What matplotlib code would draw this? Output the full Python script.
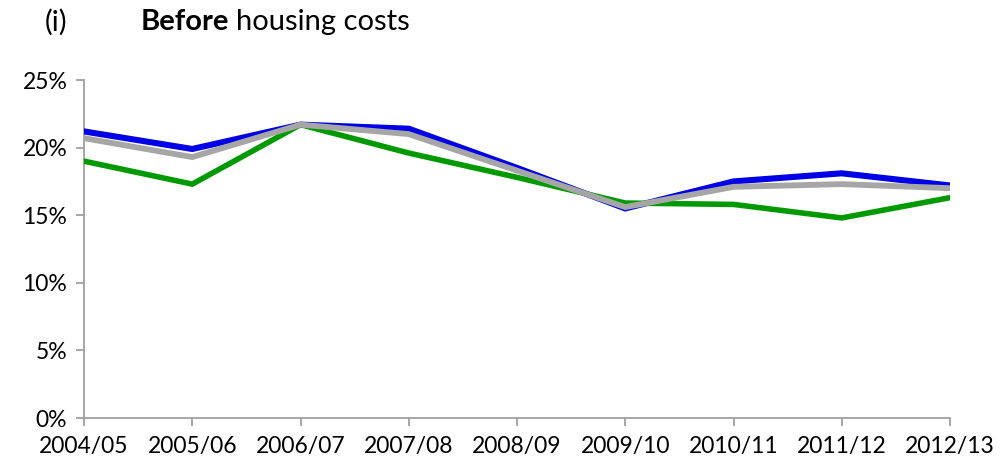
import matplotlib
matplotlib.use("Agg")
import matplotlib.pyplot as plt
from matplotlib.ticker import FuncFormatter, MultipleLocator

years = ["2004/05", "2005/06", "2006/07", "2007/08", "2008/09",
         "2009/10", "2010/11", "2011/12", "2012/13"]
blue_vals = [21.2, 19.9, 21.7, 21.4, 18.5, 15.5, 17.5, 18.1, 17.2]
green_vals = [19.0, 17.3, 21.7, 19.6, 17.8, 15.9, 15.8, 14.8, 16.3]
grey_vals = [20.7, 19.3, 21.7, 21.0, 18.3, 15.6, 17.1, 17.3, 17.0]

plt.rcParams['font.family'] = ['Lato', 'DejaVu Sans']

fig = plt.figure(figsize=(10, 4.68), dpi=100)
ax = fig.add_axes([0.084, 0.1068, 0.866, 0.7222])

x = list(range(len(years)))
ax.plot(x, blue_vals, color="#0000e6", lw=4.4, solid_joinstyle="miter", zorder=3)
ax.plot(x, green_vals, color="#009a00", lw=4.0, solid_joinstyle="miter", zorder=4)
ax.plot(x, grey_vals, color="#a6a6a6", lw=4.2, solid_joinstyle="miter", zorder=5)

ax.set_xlim(0, len(years) - 1)
ax.set_ylim(0, 25)
ax.yaxis.set_major_locator(MultipleLocator(5))
ax.yaxis.set_major_formatter(FuncFormatter(lambda v, p: f"{v:.0f}%"))
ax.set_xticks(x)
ax.set_xticklabels(years)

for side in ("top", "right"):
    ax.spines[side].set_visible(False)
for side in ("left", "bottom"):
    ax.spines[side].set_color("#a0a0a0")
    ax.spines[side].set_linewidth(1.3)
ax.tick_params(axis="both", colors="#a0a0a0", length=6, width=1.3,
               labelsize=16.5, labelcolor="black")
ax.tick_params(axis="x", pad=7)
ax.tick_params(axis="y", pad=6)

# Panel heading
fig.text(0.045, 0.952, "(i)", fontsize=21, va="center", ha="left")
fig.text(0.141, 0.952, "Before", fontsize=21, fontweight="bold",
         va="center", ha="left")
fig.text(0.236, 0.952, "housing costs", fontsize=21, va="center", ha="left")

fig.savefig("out.png", dpi=100)
